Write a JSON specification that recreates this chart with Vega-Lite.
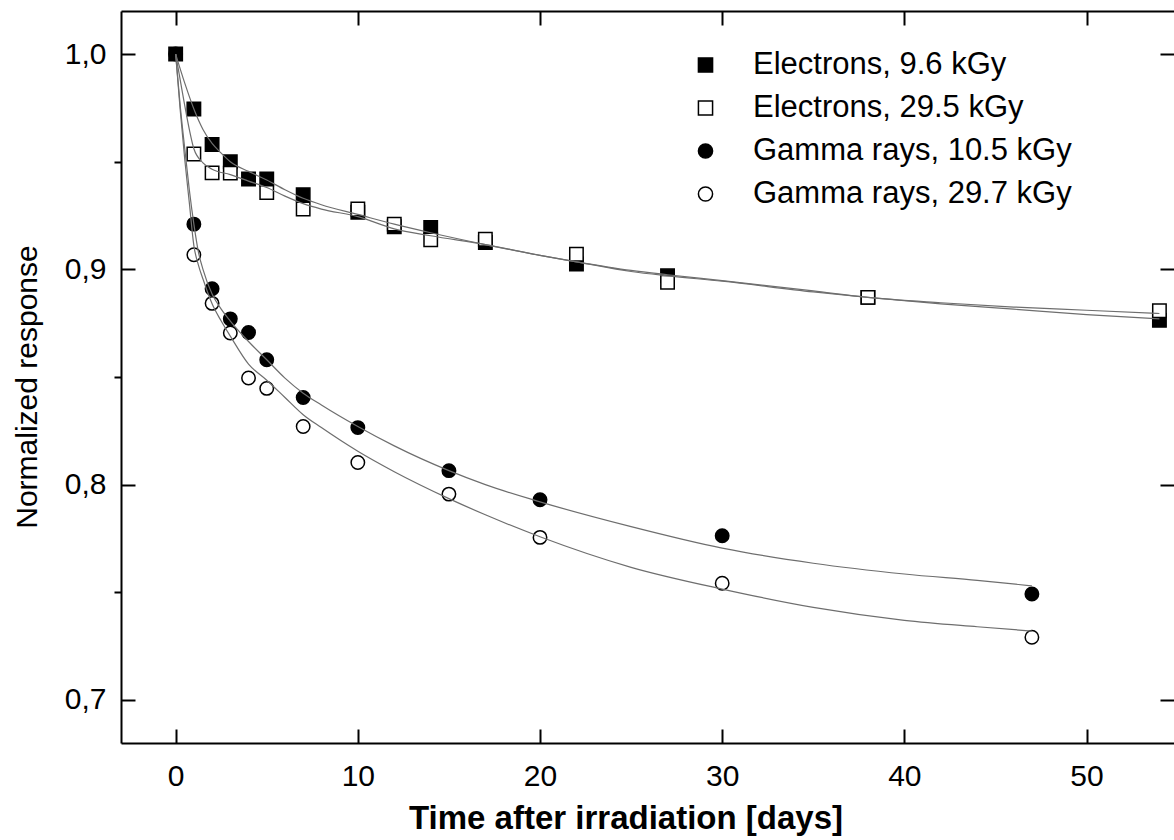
{
  "$schema": "https://vega.github.io/schema/vega-lite/v6.json",
  "width": 1053,
  "height": 732,
  "autosize": {"type": "none"},
  "padding": {"left": 121, "top": 11, "right": 0, "bottom": 97},
  "background": "white",
  "config": {
    "view": {"stroke": null},
    "axis": {"grid": false, "domainColor": "black", "tickColor": "black", "labelColor": "black", "titleColor": "black", "labelFont": "Liberation Sans", "titleFont": "Liberation Sans", "domainWidth": 2, "tickWidth": 2}
  },
  "datasets": {
    "points": [
      {"series": "Electrons, 9.6 kGy", "t": 0, "v": 1.0},
      {"series": "Electrons, 9.6 kGy", "t": 1, "v": 0.9745},
      {"series": "Electrons, 9.6 kGy", "t": 2, "v": 0.958},
      {"series": "Electrons, 9.6 kGy", "t": 3, "v": 0.95},
      {"series": "Electrons, 9.6 kGy", "t": 4, "v": 0.942},
      {"series": "Electrons, 9.6 kGy", "t": 5, "v": 0.942},
      {"series": "Electrons, 9.6 kGy", "t": 7, "v": 0.9347},
      {"series": "Electrons, 9.6 kGy", "t": 10, "v": 0.9265},
      {"series": "Electrons, 9.6 kGy", "t": 12, "v": 0.9198},
      {"series": "Electrons, 9.6 kGy", "t": 14, "v": 0.9195},
      {"series": "Electrons, 9.6 kGy", "t": 17, "v": 0.9125},
      {"series": "Electrons, 9.6 kGy", "t": 22, "v": 0.9025},
      {"series": "Electrons, 9.6 kGy", "t": 27, "v": 0.897},
      {"series": "Electrons, 9.6 kGy", "t": 38, "v": 0.887},
      {"series": "Electrons, 9.6 kGy", "t": 54, "v": 0.8763},
      {"series": "Electrons, 29.5 kGy", "t": 1, "v": 0.9536},
      {"series": "Electrons, 29.5 kGy", "t": 2, "v": 0.9448},
      {"series": "Electrons, 29.5 kGy", "t": 3, "v": 0.9447},
      {"series": "Electrons, 29.5 kGy", "t": 5, "v": 0.9357},
      {"series": "Electrons, 29.5 kGy", "t": 7, "v": 0.928},
      {"series": "Electrons, 29.5 kGy", "t": 10, "v": 0.928},
      {"series": "Electrons, 29.5 kGy", "t": 12, "v": 0.921},
      {"series": "Electrons, 29.5 kGy", "t": 14, "v": 0.9137},
      {"series": "Electrons, 29.5 kGy", "t": 17, "v": 0.914},
      {"series": "Electrons, 29.5 kGy", "t": 22, "v": 0.907},
      {"series": "Electrons, 29.5 kGy", "t": 27, "v": 0.894},
      {"series": "Electrons, 29.5 kGy", "t": 38, "v": 0.887},
      {"series": "Electrons, 29.5 kGy", "t": 54, "v": 0.8808},
      {"series": "Gamma rays, 10.5 kGy", "t": 0, "v": 1.0},
      {"series": "Gamma rays, 10.5 kGy", "t": 1, "v": 0.921},
      {"series": "Gamma rays, 10.5 kGy", "t": 2, "v": 0.891},
      {"series": "Gamma rays, 10.5 kGy", "t": 3, "v": 0.877},
      {"series": "Gamma rays, 10.5 kGy", "t": 4, "v": 0.8707},
      {"series": "Gamma rays, 10.5 kGy", "t": 5, "v": 0.858},
      {"series": "Gamma rays, 10.5 kGy", "t": 7, "v": 0.8405},
      {"series": "Gamma rays, 10.5 kGy", "t": 10, "v": 0.8265},
      {"series": "Gamma rays, 10.5 kGy", "t": 15, "v": 0.8065},
      {"series": "Gamma rays, 10.5 kGy", "t": 20, "v": 0.793},
      {"series": "Gamma rays, 10.5 kGy", "t": 30, "v": 0.7763},
      {"series": "Gamma rays, 10.5 kGy", "t": 47, "v": 0.7492},
      {"series": "Gamma rays, 29.7 kGy", "t": 1, "v": 0.9068},
      {"series": "Gamma rays, 29.7 kGy", "t": 2, "v": 0.8842},
      {"series": "Gamma rays, 29.7 kGy", "t": 3, "v": 0.8704},
      {"series": "Gamma rays, 29.7 kGy", "t": 4, "v": 0.8495},
      {"series": "Gamma rays, 29.7 kGy", "t": 5, "v": 0.8447},
      {"series": "Gamma rays, 29.7 kGy", "t": 7, "v": 0.827},
      {"series": "Gamma rays, 29.7 kGy", "t": 10, "v": 0.8103},
      {"series": "Gamma rays, 29.7 kGy", "t": 15, "v": 0.7956},
      {"series": "Gamma rays, 29.7 kGy", "t": 20, "v": 0.7755},
      {"series": "Gamma rays, 29.7 kGy", "t": 30, "v": 0.7542},
      {"series": "Gamma rays, 29.7 kGy", "t": 47, "v": 0.7291}
    ],
    "electronFits": [
      {"series": "E9.6", "t": 0, "v": 1.0},
      {"series": "E9.6", "t": 0.5, "v": 0.9865},
      {"series": "E9.6", "t": 1, "v": 0.9745},
      {"series": "E9.6", "t": 1.5, "v": 0.965},
      {"series": "E9.6", "t": 2, "v": 0.9585},
      {"series": "E9.6", "t": 2.5, "v": 0.954},
      {"series": "E9.6", "t": 3, "v": 0.95},
      {"series": "E9.6", "t": 4, "v": 0.9455},
      {"series": "E9.6", "t": 5, "v": 0.9415},
      {"series": "E9.6", "t": 6, "v": 0.937},
      {"series": "E9.6", "t": 7, "v": 0.933},
      {"series": "E9.6", "t": 8, "v": 0.93},
      {"series": "E9.6", "t": 10, "v": 0.9255},
      {"series": "E9.6", "t": 12, "v": 0.921},
      {"series": "E9.6", "t": 14, "v": 0.917},
      {"series": "E9.6", "t": 17, "v": 0.9115},
      {"series": "E9.6", "t": 20, "v": 0.9065},
      {"series": "E9.6", "t": 22, "v": 0.9035},
      {"series": "E9.6", "t": 25, "v": 0.899},
      {"series": "E9.6", "t": 27, "v": 0.897},
      {"series": "E9.6", "t": 30, "v": 0.8945},
      {"series": "E9.6", "t": 35, "v": 0.8895},
      {"series": "E9.6", "t": 38, "v": 0.887},
      {"series": "E9.6", "t": 42, "v": 0.884},
      {"series": "E9.6", "t": 46, "v": 0.8815},
      {"series": "E9.6", "t": 50, "v": 0.879},
      {"series": "E9.6", "t": 54, "v": 0.877},
      {"series": "E29.5", "t": 0, "v": 1.0},
      {"series": "E29.5", "t": 0.25, "v": 0.988},
      {"series": "E29.5", "t": 0.5, "v": 0.976},
      {"series": "E29.5", "t": 0.75, "v": 0.965},
      {"series": "E29.5", "t": 1, "v": 0.956},
      {"series": "E29.5", "t": 1.5, "v": 0.9495},
      {"series": "E29.5", "t": 2, "v": 0.9465},
      {"series": "E29.5", "t": 3, "v": 0.944},
      {"series": "E29.5", "t": 4, "v": 0.941},
      {"series": "E29.5", "t": 5, "v": 0.938},
      {"series": "E29.5", "t": 6, "v": 0.934},
      {"series": "E29.5", "t": 7, "v": 0.9305},
      {"series": "E29.5", "t": 8, "v": 0.928},
      {"series": "E29.5", "t": 10, "v": 0.9245},
      {"series": "E29.5", "t": 12, "v": 0.9188},
      {"series": "E29.5", "t": 14, "v": 0.9156},
      {"series": "E29.5", "t": 17, "v": 0.9115},
      {"series": "E29.5", "t": 20, "v": 0.9065},
      {"series": "E29.5", "t": 22, "v": 0.9035},
      {"series": "E29.5", "t": 25, "v": 0.8995},
      {"series": "E29.5", "t": 27, "v": 0.8975},
      {"series": "E29.5", "t": 30, "v": 0.8948},
      {"series": "E29.5", "t": 35, "v": 0.89},
      {"series": "E29.5", "t": 38, "v": 0.887},
      {"series": "E29.5", "t": 42, "v": 0.8845},
      {"series": "E29.5", "t": 46, "v": 0.8825},
      {"series": "E29.5", "t": 50, "v": 0.881},
      {"series": "E29.5", "t": 54, "v": 0.8795}
    ],
    "gammaFits": [
      {"series": "G10.5", "t": 0, "v": 1.0},
      {"series": "G10.5", "t": 0.25, "v": 0.976},
      {"series": "G10.5", "t": 0.5, "v": 0.956},
      {"series": "G10.5", "t": 0.75, "v": 0.937},
      {"series": "G10.5", "t": 1, "v": 0.921},
      {"series": "G10.5", "t": 1.25, "v": 0.908},
      {"series": "G10.5", "t": 1.5, "v": 0.9},
      {"series": "G10.5", "t": 2, "v": 0.8885},
      {"series": "G10.5", "t": 2.5, "v": 0.8815},
      {"series": "G10.5", "t": 3, "v": 0.876},
      {"series": "G10.5", "t": 4, "v": 0.8665},
      {"series": "G10.5", "t": 5, "v": 0.858},
      {"series": "G10.5", "t": 6, "v": 0.8495},
      {"series": "G10.5", "t": 7, "v": 0.8425},
      {"series": "G10.5", "t": 8, "v": 0.837},
      {"series": "G10.5", "t": 10, "v": 0.827},
      {"series": "G10.5", "t": 12, "v": 0.818},
      {"series": "G10.5", "t": 15, "v": 0.8065},
      {"series": "G10.5", "t": 17, "v": 0.8},
      {"series": "G10.5", "t": 20, "v": 0.792},
      {"series": "G10.5", "t": 25, "v": 0.7805},
      {"series": "G10.5", "t": 30, "v": 0.7705},
      {"series": "G10.5", "t": 35, "v": 0.7635},
      {"series": "G10.5", "t": 40, "v": 0.7585},
      {"series": "G10.5", "t": 44, "v": 0.7555},
      {"series": "G10.5", "t": 47, "v": 0.753},
      {"series": "G29.7", "t": 0, "v": 1.0},
      {"series": "G29.7", "t": 0.25, "v": 0.974},
      {"series": "G29.7", "t": 0.5, "v": 0.951},
      {"series": "G29.7", "t": 0.75, "v": 0.931},
      {"series": "G29.7", "t": 1, "v": 0.911},
      {"series": "G29.7", "t": 1.25, "v": 0.902},
      {"series": "G29.7", "t": 1.5, "v": 0.8955},
      {"series": "G29.7", "t": 2, "v": 0.884},
      {"series": "G29.7", "t": 2.5, "v": 0.876},
      {"series": "G29.7", "t": 3, "v": 0.869},
      {"series": "G29.7", "t": 4, "v": 0.856},
      {"series": "G29.7", "t": 5, "v": 0.8485},
      {"series": "G29.7", "t": 6, "v": 0.8405},
      {"series": "G29.7", "t": 7, "v": 0.8325},
      {"series": "G29.7", "t": 8, "v": 0.8265},
      {"series": "G29.7", "t": 10, "v": 0.8155},
      {"series": "G29.7", "t": 12, "v": 0.806},
      {"series": "G29.7", "t": 15, "v": 0.7935},
      {"series": "G29.7", "t": 17, "v": 0.786},
      {"series": "G29.7", "t": 20, "v": 0.7758},
      {"series": "G29.7", "t": 25, "v": 0.7616},
      {"series": "G29.7", "t": 30, "v": 0.7515},
      {"series": "G29.7", "t": 35, "v": 0.743},
      {"series": "G29.7", "t": 40, "v": 0.737},
      {"series": "G29.7", "t": 44, "v": 0.734},
      {"series": "G29.7", "t": 47, "v": 0.732}
    ]
  },
  "layer": [
    {
      "data": {"name": "points"},
      "mark": {"type": "point", "filled": true, "strokeWidth": 1.5, "size": 180, "opacity": 1},
      "encoding": {
        "x": {"field": "t", "type": "quantitative", "scale": {"domain": [-3, 54.8], "nice": false, "zero": false},
              "axis": {"orient": "top", "values": [0, 10, 20, 30, 40, 50], "tickSize": -14, "labels": false, "title": null, "domain": true}},
        "y": {"field": "v", "type": "quantitative", "scale": {"domain": [0.68, 1.02], "nice": false, "zero": false},
              "axis": {"orient": "right", "values": [0.7, 0.8, 0.9, 1.0], "tickSize": -14, "labels": false, "domain": false, "title": null}},
        "shape": {"field": "series", "type": "nominal",
                  "scale": {"domain": ["Electrons, 9.6 kGy", "Electrons, 29.5 kGy", "Gamma rays, 10.5 kGy", "Gamma rays, 29.7 kGy"], "range": ["square", "square", "circle", "circle"]},
                  "legend": {"orient": "none", "legendX": 569, "legendY": 38.5, "title": null, "labelFont": "Liberation Sans", "labelFontSize": 31, "labelColor": "black", "symbolSize": 200, "symbolStrokeWidth": 1.5, "labelOffset": 32, "rowPadding": 11, "padding": 0, "labelLimit": 0}},
        "fill": {"field": "series", "type": "nominal",
                 "scale": {"domain": ["Electrons, 9.6 kGy", "Electrons, 29.5 kGy", "Gamma rays, 10.5 kGy", "Gamma rays, 29.7 kGy"], "range": ["black", "white", "black", "white"]},
                 "legend": {"orient": "none", "legendX": 569, "legendY": 38.5, "title": null, "labelFont": "Liberation Sans", "labelFontSize": 31, "labelColor": "black", "symbolSize": 200, "symbolStrokeWidth": 1.5, "labelOffset": 32, "rowPadding": 11, "padding": 0, "labelLimit": 0}},
        "stroke": {"field": "series", "type": "nominal",
                 "scale": {"domain": ["Electrons, 9.6 kGy", "Electrons, 29.5 kGy", "Gamma rays, 10.5 kGy", "Gamma rays, 29.7 kGy"], "range": ["black", "black", "black", "black"]},
                 "legend": {"orient": "none", "legendX": 569, "legendY": 38.5, "title": null, "labelFont": "Liberation Sans", "labelFontSize": 31, "labelColor": "black", "symbolSize": 200, "symbolStrokeWidth": 1.5, "labelOffset": 32, "rowPadding": 11, "padding": 0, "labelLimit": 0}}
      }
    },
    {
      "data": {"name": "electronFits"},
      "mark": {"type": "line", "color": "#6e6e6e", "strokeWidth": 1.2, "interpolate": "monotone"},
      "encoding": {
        "x": {"field": "t", "type": "quantitative",
              "axis": {"orient": "bottom", "values": [0, 10, 20, 30, 40, 50], "tickSize": -14, "labelPadding": 32, "labelFontSize": 30, "domain": true,
                       "title": "Time after irradiation [days]", "titleFontSize": 33, "titleFontWeight": "bold", "titleX": 504.5, "titleY": 85, "titleBaseline": "alphabetic", "titleAlign": "center"}},
        "y": {"field": "v", "type": "quantitative",
              "axis": {"orient": "left", "values": [0.7, 0.8, 0.9, 1.0], "tickSize": -14, "labelPadding": 29, "labelFontSize": 30, "domain": true,
                       "labelExpr": "replace(format(datum.value, '.1f'), '.', ',')",
                       "title": "Normalized response", "titleFontSize": 30, "titleFontWeight": "normal", "titleX": -84.6, "titleY": 375.5, "titleAngle": -90, "titleBaseline": "alphabetic", "titleAlign": "center"}},
        "detail": {"field": "series", "type": "nominal"}
      }
    },
    {
      "data": {"name": "gammaFits"},
      "mark": {"type": "line", "color": "#6e6e6e", "strokeWidth": 1.2, "interpolate": "monotone"},
      "encoding": {
        "x": {"field": "t", "type": "quantitative", "axis": null},
        "y": {"field": "v", "type": "quantitative",
              "axis": {"orient": "left", "values": [0.75, 0.85, 0.95], "tickSize": 7, "labels": false, "domain": false, "title": null}},
        "detail": {"field": "series", "type": "nominal"}
      }
    }
  ],
  "resolve": {"axis": {"x": "independent", "y": "independent"}}
}
